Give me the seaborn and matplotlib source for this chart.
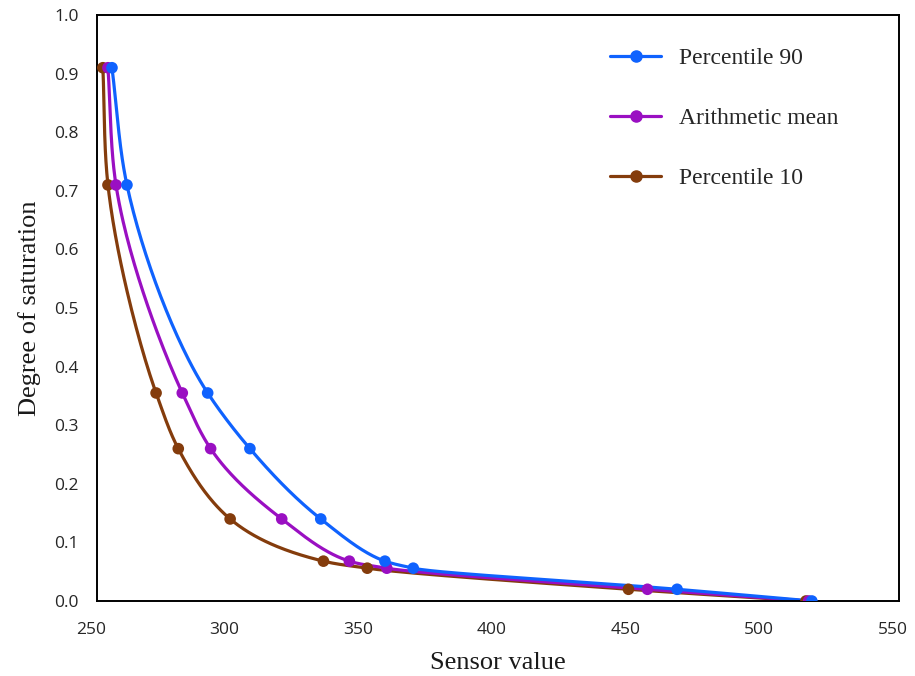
import numpy as np
import pandas as pd
import matplotlib
matplotlib.use("Agg")
import matplotlib.pyplot as plt
import matplotlib.transforms as mtransforms
from matplotlib.lines import Line2D
import seaborn as sns

# ---- data ----
saturation = [0.91, 0.71, 0.355, 0.26, 0.14, 0.068, 0.056, 0.02, 0.0]
p90 = [255.6, 261.2, 291.4, 307.2, 333.7, 357.7, 368.3, 467.0, 517.4]
mean = [254.1, 257.1, 281.9, 292.5, 319.1, 344.4, 358.4, 455.9, 516.2]
p10 = [252.2, 254.1, 272.1, 280.4, 299.8, 334.7, 351.1, 448.8, 515.2]
series_names = ["Percentile 90", "Arithmetic mean", "Percentile 10"]
series_values = [p90, mean, p10]
colors = ["#0F62FE", "#9A0FC2", "#843C0C"]
x_ticks = [250, 300, 350, 400, 450, 500, 550]
y_ticks = [0.0, 0.1, 0.2, 0.3, 0.4, 0.5, 0.6, 0.7, 0.8, 0.9, 1.0]

sns.set_theme(style="white")
plt.rcParams["font.family"] = ["Open Sans", "DejaVu Sans"]

fig = plt.figure(figsize=(9.15, 6.76), dpi=100)
ax = fig.add_axes([97 / 915, 1 - 601 / 676, (899 - 97) / 915, (601 - 15) / 676])

xr, yr = 300.0, 1.0
aspect = 586 / 802


def smooth(xs, ys, n=50):
    # smoothed line: cubic Bezier; tangent weighted toward the shorter
    # neighbouring segment; handle length limited by neighbouring segments
    P = np.column_stack([np.asarray(xs) / xr, np.asarray(ys) / yr * aspect])
    m = len(P)
    Ls = [np.linalg.norm(P[i + 1] - P[i]) for i in range(m - 1)]
    T = []
    for i in range(m):
        if i == 0:
            d = P[1] - P[0]
        elif i == m - 1:
            d = P[-1] - P[-2]
        else:
            a = P[i] - P[i - 1]
            b = P[i + 1] - P[i]
            la, lb = Ls[i - 1], Ls[i]
            d = (a / la) * lb + (b / lb) * la
        T.append(d / np.linalg.norm(d))
    out = []
    for i in range(m - 1):
        p1, p2 = P[i], P[i + 1]
        L = Ls[i]
        h1 = L / 3 if i == 0 else min(L / 3, 0.8 * Ls[i - 1])
        h2 = L / 3 if i + 1 == m - 1 else min(L / 3, 0.8 * Ls[i + 1])
        c1 = p1 + T[i] * h1
        c2 = p2 - T[i + 1] * h2
        t = np.linspace(0, 1, n)[:, None]
        seg = ((1 - t) ** 3) * p1 + 3 * ((1 - t) ** 2) * t * c1 + 3 * (1 - t) * t ** 2 * c2 + t ** 3 * p2
        out.append(seg if i == 0 else seg[1:])
    S = np.vstack(out)
    return S[:, 0] * xr, S[:, 1] / aspect * yr


rows_pts = []
rows_curve = []
for name, vals in zip(series_names, series_values):
    for x, y in zip(vals, saturation):
        rows_pts.append({"series": name, "x": x, "y": y})
    sx, sy = smooth(vals, saturation)
    for k, (x, y) in enumerate(zip(sx, sy)):
        rows_curve.append({"series": name, "x": x, "y": y, "k": k})
pts = pd.DataFrame(rows_pts)
curve = pd.DataFrame(rows_curve)
palette = dict(zip(series_names, colors))

order = series_names[::-1]
for name in order:
    sub = curve[curve.series == name]
    sns.lineplot(data=sub, x="x", y="y", sort=False, color=palette[name],
                 linewidth=2.3, ax=ax, legend=False, estimator=None)
    sp = pts[pts.series == name]
    sns.scatterplot(data=sp, x="x", y="y", color=palette[name], s=70,
                    edgecolor="none", ax=ax, legend=False, zorder=3)

ax.set_xlim(250, 550)
ax.set_ylim(0, 1.0)
ax.set_xticks(x_ticks)
ax.set_xticklabels([str(v) for v in x_ticks])
ax.set_yticks(y_ticks)
ax.set_yticklabels([f"{v:.1f}" for v in y_ticks])
ax.tick_params(axis="x", labelsize=12.5, length=0, pad=15)
ax.tick_params(axis="y", labelsize=12.5, length=0, pad=13)
shift = mtransforms.ScaledTranslation(-6 / 100, 0, fig.dpi_scale_trans)
for lbl in ax.get_xticklabels():
    lbl.set_color("#262626")
    lbl.set_transform(lbl.get_transform() + shift)
for lbl in ax.get_yticklabels():
    lbl.set_color("#262626")
for sp_ in ax.spines.values():
    sp_.set_visible(True)
    sp_.set_color("black")
    sp_.set_linewidth(1.4)

ax.set_xlabel("Sensor value", family=["Liberation Serif"], fontsize=19, color="#1a1a1a", labelpad=10)
ax.set_ylabel("Degree of saturation", family=["Liberation Serif"], fontsize=19, color="#1a1a1a", labelpad=10)

handles = [Line2D([0], [0], color=c, lw=2.3, marker="o", markersize=8) for c in colors]
leg = ax.legend(handles, series_names, loc="upper left", bbox_to_anchor=(0.64, 0.944),
                frameon=False, prop={"family": "Liberation Serif", "size": 17},
                labelspacing=1.62, handlelength=2.15, handletextpad=0.78, borderpad=0,
                borderaxespad=0)

fig.savefig("out.png", dpi=100)
